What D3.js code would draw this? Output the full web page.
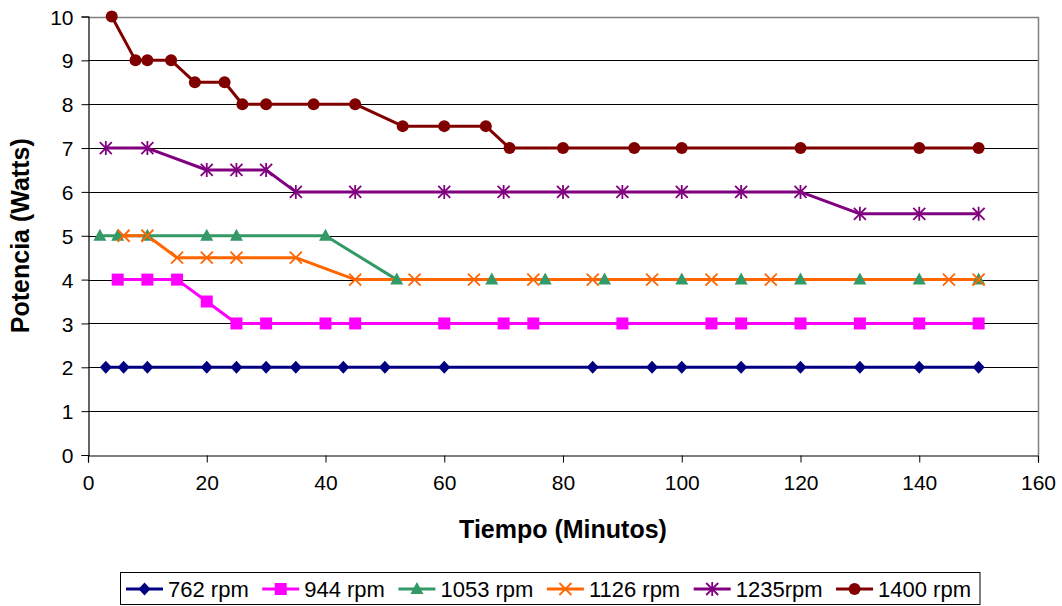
<!DOCTYPE html>
<html>
<head>
<meta charset="utf-8">
<script src="https://cdn.jsdelivr.net/npm/d3@7"></script>
<style>
  html, body { margin: 0; padding: 0; background: #fff; }
  svg { display: block; font-family: Arial, "Liberation Sans", sans-serif; }
</style>
</head>
<body>
<svg id="chart" width="1062" height="606"></svg>
<script>
// ---- data ----
const seriesNames = ["762 rpm", "944 rpm", "1053 rpm", "1126 rpm", "1235rpm", "1400 rpm"];
const t762  = [3, 6, 10, 20, 25, 30, 35, 43, 50, 60, 85, 95, 100, 110, 120, 130, 140, 150];
const p762  = [2, 2, 2, 2, 2, 2, 2, 2, 2, 2, 2, 2, 2, 2, 2, 2, 2, 2];
const t944  = [5, 10, 15, 20, 25, 30, 40, 45, 60, 70, 75, 90, 105, 110, 120, 130, 140, 150];
const p944  = [4, 4, 4, 3.5, 3, 3, 3, 3, 3, 3, 3, 3, 3, 3, 3, 3, 3, 3];
const t1053 = [2, 5, 10, 20, 25, 40, 52, 68, 77, 87, 100, 110, 120, 130, 140, 150];
const p1053 = [5, 5, 5, 5, 5, 5, 4, 4, 4, 4, 4, 4, 4, 4, 4, 4];
const t1126 = [6, 10, 15, 20, 25, 35, 45, 55, 65, 75, 85, 95, 105, 115, 145, 150];
const p1126 = [5, 5, 4.5, 4.5, 4.5, 4.5, 4, 4, 4, 4, 4, 4, 4, 4, 4, 4];
const t1235 = [3, 10, 20, 25, 30, 35, 45, 60, 70, 80, 90, 100, 110, 120, 130, 140, 150];
const p1235 = [7, 7, 6.5, 6.5, 6.5, 6, 6, 6, 6, 6, 6, 6, 6, 6, 5.5, 5.5, 5.5];
const t1400 = [4, 8, 10, 14, 18, 23, 26, 30, 38, 45, 53, 60, 67, 71, 80, 92, 100, 120, 140, 150];
const p1400 = [10, 9, 9, 9, 8.5, 8.5, 8, 8, 8, 8, 7.5, 7.5, 7.5, 7, 7, 7, 7, 7, 7, 7];
const xTicks = [0, 20, 40, 60, 80, 100, 120, 140, 160];
const yTicks = [0, 1, 2, 3, 4, 5, 6, 7, 8, 9, 10];
const xTitle = "Tiempo (Minutos)";
const yTitle = "Potencia (Watts)";

// ---- styles ----
const colors = ["#000080", "#FF00FF", "#339966", "#FF6600", "#800080", "#800000"];
const markers = ["diamond", "square", "triangle", "x", "star", "circle"];
const tArr = [t762, t944, t1053, t1126, t1235, t1400];
const pArr = [p762, p944, p1053, p1126, p1235, p1400];
const series = seriesNames.map((n, i) => ({
  name: n, color: colors[i], marker: markers[i],
  pts: tArr[i].map((t, j) => ({ t: t, p: pArr[i][j] }))
}));

const svg = d3.select("#chart");
const L = 88, R = 1038, T = 16.5, B = 455;
const x = d3.scaleLinear().domain([0, 160]).range([L, R]);
const y = d3.scaleLinear().domain([0, 10]).range([B, T]);

// gridlines
svg.append("g").selectAll("line").data(yTicks.filter(v => v > 0 && v < 10)).join("line")
  .attr("x1", L).attr("x2", R)
  .attr("y1", d => Math.round(y(d)) + 0.5).attr("y2", d => Math.round(y(d)) + 0.5)
  .attr("stroke", "#000").attr("stroke-width", 1);

// plot border (top & right)
svg.append("path")
  .attr("d", `M${L},${Math.round(T) + 0.5}H${R + 0.5}V${B}`)
  .attr("fill", "none").attr("stroke", "#808080").attr("stroke-width", 1.5);

// axes
const yAxis = d3.axisLeft(y).tickValues(yTicks).tickSize(7).tickPadding(8).tickFormat(d3.format("d"));
const gy = svg.append("g").attr("transform", `translate(${L + 0.5},0)`).call(yAxis);
const xAxis = d3.axisBottom(x).tickValues(xTicks).tickSize(7).tickPadding(12).tickFormat(d3.format("d"));
const gx = svg.append("g").attr("transform", `translate(0,${B + 0.5})`).call(xAxis);
[gy, gx].forEach(g => {
  g.select(".domain").attr("stroke", "#000").attr("stroke-width", 1.2);
  g.selectAll(".tick line").attr("stroke", "#000");
  g.selectAll(".tick text").attr("font-size", 21).attr("font-family", "Arial, 'Liberation Sans', sans-serif").attr("fill", "#000");
});
gy.selectAll(".tick text").attr("dy", "0.36em");
gx.selectAll(".tick text").attr("dy", "0.72em");

// titles
svg.append("text").attr("x", (L + R) / 2).attr("y", 538)
  .attr("text-anchor", "middle").attr("font-size", 25).attr("font-weight", "bold").text(xTitle);
svg.append("text").attr("transform", `translate(29,${(T + B) / 2}) rotate(-90)`)
  .attr("text-anchor", "middle").attr("font-size", 25).attr("font-weight", "bold").text(yTitle);

// marker drawing
function drawMarker(g, type, color, cx, cy) {
  if (type === "diamond") {
    g.append("path").attr("d", `M${cx},${cy - 6.5}L${cx + 6},${cy}L${cx},${cy + 6.5}L${cx - 6},${cy}Z`).attr("fill", color);
  } else if (type === "square") {
    g.append("rect").attr("x", cx - 6).attr("y", cy - 6).attr("width", 12).attr("height", 12).attr("fill", color);
  } else if (type === "triangle") {
    g.append("path").attr("d", `M${cx},${cy - 7}L${cx + 6.5},${cy + 5}L${cx - 6.5},${cy + 5}Z`).attr("fill", color);
  } else if (type === "x") {
    g.append("path").attr("d", `M${cx - 6},${cy - 6}L${cx + 6},${cy + 6}M${cx - 6},${cy + 6}L${cx + 6},${cy - 6}`)
      .attr("stroke", color).attr("stroke-width", 1.8).attr("fill", "none");
  } else if (type === "star") {
    g.append("path").attr("d", `M${cx - 6},${cy - 6}L${cx + 6},${cy + 6}M${cx - 6},${cy + 6}L${cx + 6},${cy - 6}M${cx},${cy - 7}L${cx},${cy + 7}`)
      .attr("stroke", color).attr("stroke-width", 1.8).attr("fill", "none");
  } else if (type === "circle") {
    g.append("circle").attr("cx", cx).attr("cy", cy).attr("r", 6).attr("fill", color);
  }
}

// lines
const line = d3.line().x(d => x(d.t)).y(d => y(d.p));
const gl = svg.append("g");
series.forEach(s => {
  gl.append("path").datum(s.pts).attr("d", line)
    .attr("fill", "none").attr("stroke", s.color).attr("stroke-width", 3).attr("stroke-linejoin", "round");
});
// markers
const gm = svg.append("g");
series.forEach(s => {
  s.pts.forEach(d => drawMarker(gm, s.marker, s.color, x(d.t), y(d.p)));
});

// legend
const lg = svg.append("g");
const legBox = lg.append("rect").attr("x", 120.5).attr("y", 572.5).attr("height", 32)
  .attr("fill", "#fff").attr("stroke", "#000").attr("stroke-width", 1);
let cx = 126;
const ly = 589;
const gap = 13.5;
series.forEach(s => {
  lg.append("line").attr("x1", cx).attr("x2", cx + 37).attr("y1", ly).attr("y2", ly)
    .attr("stroke", s.color).attr("stroke-width", 3);
  drawMarker(lg, s.marker, s.color, cx + 18.5, ly);
  const txt = lg.append("text").attr("x", cx + 42).attr("y", ly + 8).attr("font-size", 22).text(s.name);
  const w = txt.node().getComputedTextLength();
  cx = cx + 42 + w + gap;
});
legBox.attr("width", Math.max(cx - gap + 9 - 120.5, 0));
</script>
</body>
</html>
